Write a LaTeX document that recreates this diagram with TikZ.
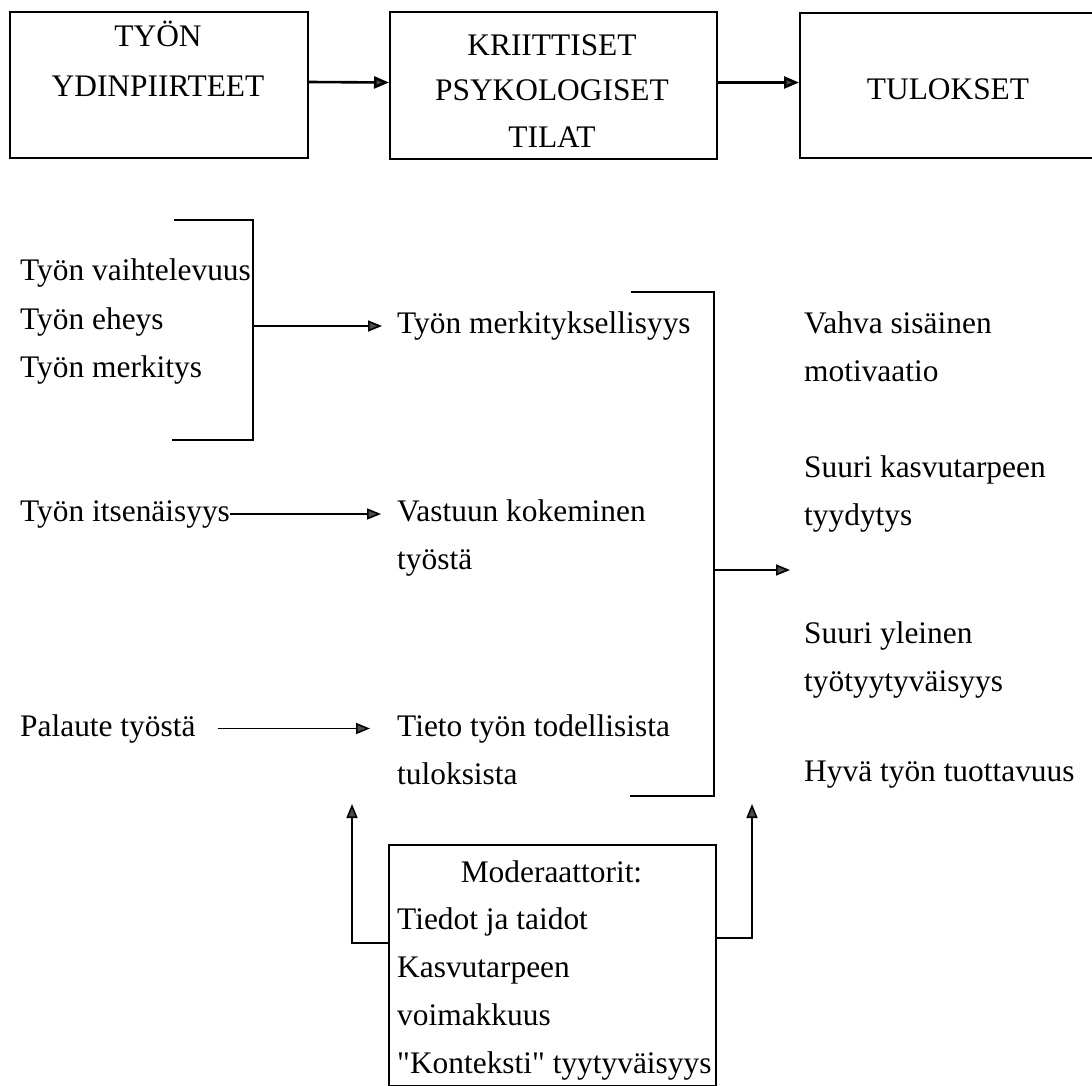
\documentclass[tikz,border=0pt]{standalone}
\usepackage{fontspec}
\setmainfont{Liberation Serif}[Ligatures=TeXOff]
\usetikzlibrary{arrows.meta}
\begin{document}
\begin{tikzpicture}[x=1pt,y=-1pt,
  txt/.style={anchor=base west, inner sep=0pt, font=\fontsize{31.4}{37}\selectfont},
  ctxt/.style={anchor=base, inner sep=0pt, font=\fontsize{31.4}{37}\selectfont},
  box/.style={draw, line width=2pt, inner sep=0pt},
  arr/.style={line width=1.6pt, -{Triangle[length=14pt,width=11pt,fill=black!70]}},
  tarr/.style={line width=2.6pt, -{Triangle[length=15pt,width=12pt,fill=black!70]}},
  br/.style={line width=1.6pt}]
\useasboundingbox (0,0) rectangle (1092,1086);

% top boxes
\node[box, anchor=north west, minimum width=298pt, minimum height=146pt] (b1) at (9,11) {};
\node[box, anchor=north west, minimum width=327pt, minimum height=147pt] (b2) at (389,11) {};
\node[box, anchor=north west, minimum width=300pt, minimum height=145pt] (b3) at (799,12) {};
\node[ctxt] (t1a) at (158,47) {TYÖN};
\node[ctxt] (t1b) at (158,97) {YDINPIIRTEET};
\node[ctxt] (t2a) at (552,56) {KRIITTISET};
\node[ctxt] (t2b) at (552,101) {PSYKOLOGISET};
\node[ctxt] (t2c) at (552,148) {TILAT};
\node[ctxt] (t3a) at (948,100) {TULOKSET};
\draw[tarr] ([yshift=3pt]b1.east) -- ([yshift=3pt]b2.west);
\draw[tarr] ([yshift=3pt]b2.east) -- ([yshift=3pt]b3.west);

% left column
\node[txt] (l1) at (20,280) {Työn vaihtelevuus};
\node[txt] (l2) at (20,329) {Työn eheys};
\node[txt] (l3) at (20,377) {Työn merkitys};
\node[txt] (l4) at (20,521) {Työn itsenäisyys};
\node[txt] (l5) at (20,736) {Palaute työstä};

% middle column
\node[txt] (m1) at (397,333) {Työn merkityksellisyys};
\node[txt] (m2) at (397,521) {Vastuun kokeminen};
\node[txt] (m2b) at (397,569) {työstä};
\node[txt] (m3) at (397,736) {Tieto työn todellisista};
\node[txt] (m3b) at (397,784) {tuloksista};

% right column
\node[txt] (r1) at (804,333) {Vahva sisäinen};
\node[txt] (r1b) at (804,381) {motivaatio};
\node[txt] (r2) at (804,477) {Suuri kasvutarpeen};
\node[txt] (r2b) at (804,525) {tyydytys};
\node[txt] (r3) at (804,643) {Suuri yleinen};
\node[txt] (r3b) at (804,691) {työtyytyväisyys};
\node[txt] (r4) at (804,781) {Hyvä työn tuottavuus};

% left bracket
\draw[br] (174,220) -- (253,220) -- (253,440) -- (172,440);
\coordinate (lbr) at (253,326);
\draw[arr, shorten >=15pt] (lbr) -- (lbr -| m1.west);

% single arrows
\draw[arr, shorten >=16pt] (l4.east) -- (l4.east -| m2.west);
\draw[arr, shorten <=22pt, shorten >=27pt] (l5.east) -- (l5.east -| m3.west);

% right bracket
\draw[br] (631,292) -- (714,292) -- (714,796) -- (630,796);
\coordinate (rbr) at (714,570);
\coordinate (outtip) at (790,570);
\draw[arr] (rbr) -- (outtip);

% moderator box
\node[box, anchor=north west, minimum width=327pt, minimum height=241pt] (mod) at (388,844) {};
\node[ctxt] (mo0) at (551.5,882) {Moderaattorit:};
\node[txt] (mo1) at (397,929) {Tiedot ja taidot};
\node[txt] (mo2) at (397,977) {Kasvutarpeen};
\node[txt] (mo3) at (397,1025) {voimakkuus};
\node[txt] (mo4) at (397,1073) {"Konteksti" tyytyväisyys};
\coordinate (tipL) at (352,804);
\coordinate (tipR) at (752,804);
\draw[arr] ([yshift=22.5pt]mod.west) -| (tipL);
\draw[arr] ([yshift=27.5pt]mod.east) -| (tipR);
\end{tikzpicture}
\end{document}
